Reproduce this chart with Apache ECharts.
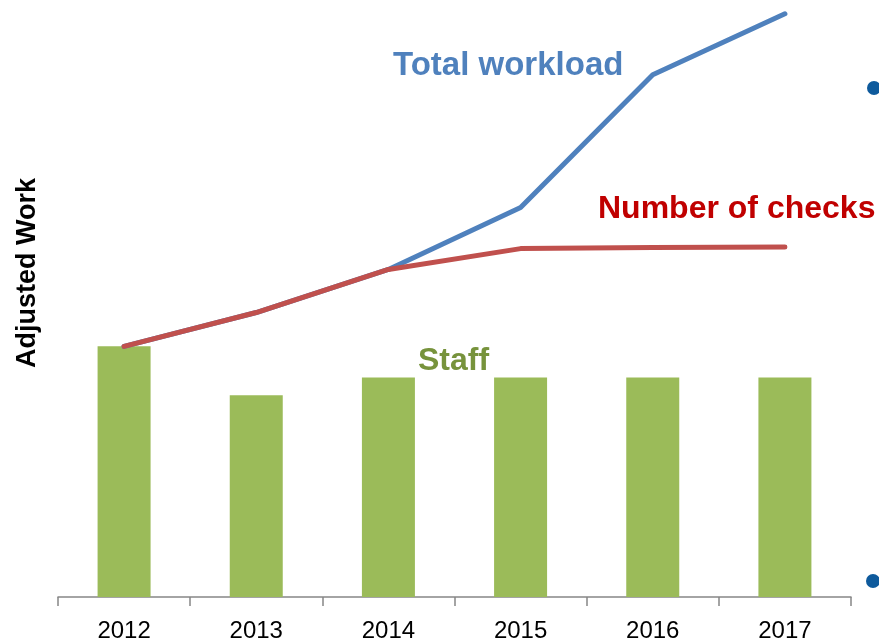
<!DOCTYPE html>
<html>
<head>
<meta charset="utf-8">
<script src="https://cdn.jsdelivr.net/npm/echarts@6/dist/echarts.min.js"></script>
<style>
  html, body { margin: 0; padding: 0; background: #fff; }
  #chart { width: 879px; height: 643px; }
</style>
</head>
<body>
<div id="chart"></div>
<script>
// ---------------------------------------------------
// Data (staff 2012 = 100)
// ---------------------------------------------------
const years = ["2012", "2013", "2014", "2015", "2016", "2017"];
const staff = [100, 80.5, 87.6, 87.6, 87.6, 87.6];
const totalWorkload = [100, 113.5, 130.7, 155.4, 208.4, 232.7];
const numberOfChecks = [100, 113.5, 130.7, 139.0, 139.4, 139.6];

const FONT = "'Liberation Sans', Arial, sans-serif";

const chart = echarts.init(document.getElementById("chart"));

chart.setOption({
  animation: false,
  grid: { left: 58, right: 28, top: 8, bottom: 45 },
  xAxis: {
    type: "category",
    data: years,
    boundaryGap: true,
    axisLine: { lineStyle: { color: "#868686", width: 1.5 } },
    axisTick: { show: true, length: 9, lineStyle: { color: "#868686", width: 1.5 } },
    axisLabel: { color: "#000", fontSize: 24, fontFamily: FONT, margin: 22 }
  },
  yAxis: {
    type: "value",
    min: 0,
    max: 235,
    axisLine: { show: false },
    axisTick: { show: false },
    axisLabel: { show: false },
    splitLine: { show: false }
  },
  series: [
    {
      name: "Staff",
      type: "bar",
      data: staff,
      barWidth: 53,
      itemStyle: { color: "#9BBB59" }
    },
    {
      name: "Total workload",
      type: "line",
      data: totalWorkload,
      symbol: "none",
      lineStyle: { color: "#4F81BD", width: 5, cap: "round", join: "round" }
    },
    {
      name: "Number of checks",
      type: "line",
      data: numberOfChecks,
      symbol: "none",
      lineStyle: { color: "#C0504D", width: 5, cap: "round", join: "round" }
    }
  ],
  graphic: [
    // y axis title, placed like the original (a bit above the plot middle)
    {
      type: "text", x: 28, y: 273, rotation: Math.PI / 2,
      style: {
        text: "Adjusted Work", fill: "#000", font: "bold 27px " + FONT,
        align: "center", verticalAlign: "middle"
      }
    },
    {
      type: "text", x: 393, y: 66,
      style: { text: "Total workload", fill: "#4F81BD", font: "bold 33px " + FONT, verticalAlign: "middle" }
    },
    {
      type: "text", x: 598, y: 209,
      style: { text: "Number of checks", fill: "#C00000", font: "bold 32px " + FONT, verticalAlign: "middle" }
    },
    {
      type: "text", x: 418, y: 361,
      style: { text: "Staff", fill: "#77933C", font: "bold 32px " + FONT, verticalAlign: "middle" }
    },
    { type: "circle", shape: { cx: 874, cy: 88, r: 7 }, style: { fill: "#0E5A9C" } },
    { type: "circle", shape: { cx: 873, cy: 581, r: 7 }, style: { fill: "#0E5A9C" } }
  ]
});
</script>
</body>
</html>
